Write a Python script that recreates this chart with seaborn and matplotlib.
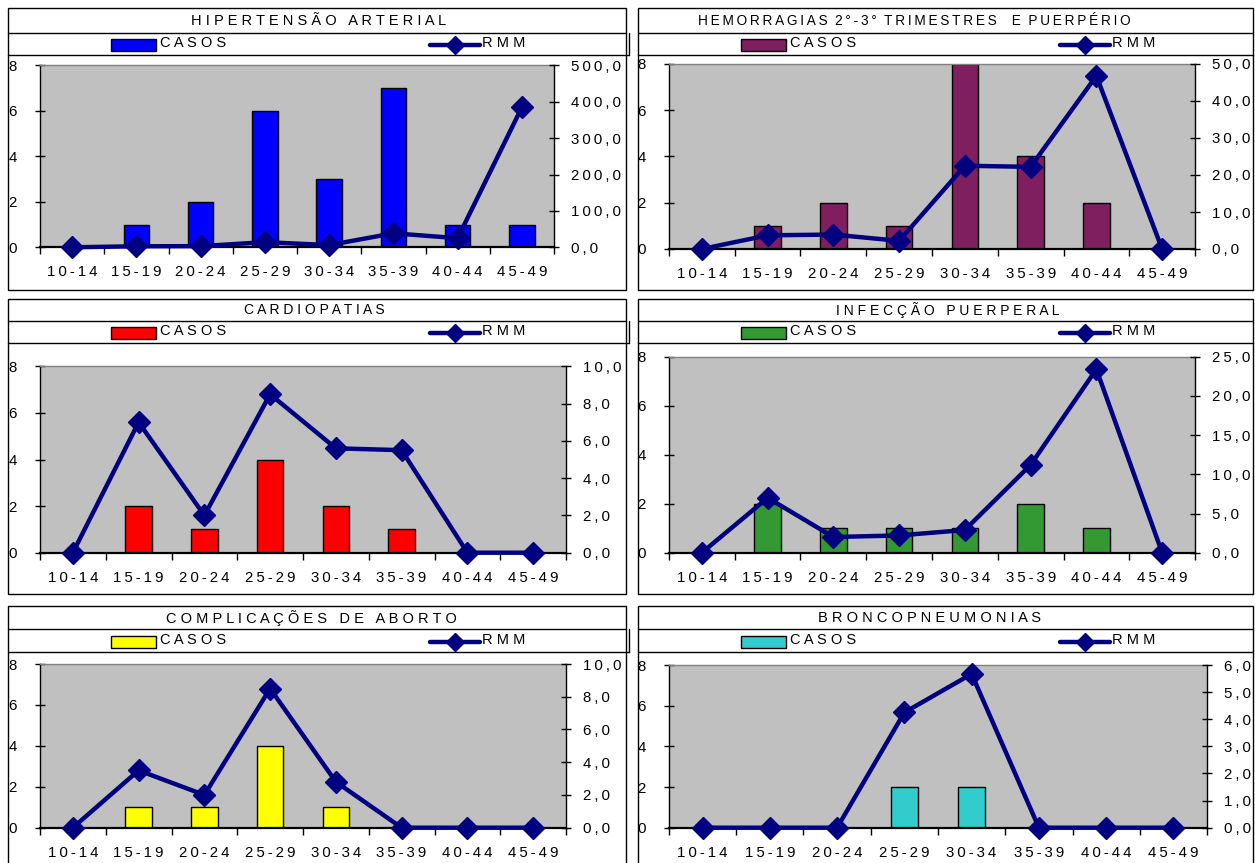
import numpy as np
import matplotlib
matplotlib.use("Agg")
import matplotlib.pyplot as plt
from matplotlib.patches import Rectangle
from matplotlib.lines import Line2D
from matplotlib.ticker import FuncFormatter
import seaborn as sns

sns.set_theme(style="white")
plt.rcParams["font.family"] = ["Liberation Sans", "DejaVu Sans"]

# ---- data -------------------------------------------------------------
faixas = ["10-14", "15-19", "20-24", "25-29", "30-34", "35-39", "40-44", "45-49"]

casos_hipertensao = [0, 1, 2, 6, 3, 7, 1, 1]
rmm_hipertensao = [0.0, 2.8, 3.1, 14.2, 6.0, 38.5, 25.0, 384.6]

casos_hemorragias = [0, 1, 2, 1, 8, 4, 2, 0]
rmm_hemorragias = [0.0, 3.7, 3.9, 2.2, 22.5, 22.2, 46.8, 0.0]

casos_cardiopatias = [0, 2, 1, 4, 2, 1, 0, 0]
rmm_cardiopatias = [0.0, 7.0, 2.0, 8.5, 5.6, 5.5, 0.0, 0.0]

casos_infeccao = [0, 2, 1, 1, 1, 2, 1, 0]
rmm_infeccao = [0.0, 7.0, 2.0, 2.2, 2.9, 11.2, 23.4, 0.0]

casos_aborto = [0, 1, 1, 4, 1, 0, 0, 0]
rmm_aborto = [0.0, 3.5, 2.0, 8.5, 2.8, 0.0, 0.0, 0.0]

casos_bronco = [0, 0, 0, 2, 2, 0, 0, 0]
rmm_bronco = [0.0, 0.0, 0.0, 4.25, 5.67, 0.0, 0.0, 0.0]

titulos = [
    "HIPERTENSÃO ARTERIAL",
    "HEMORRAGIAS 2°-3° TRIMESTRES  E PUERPÉRIO",
    "CARDIOPATIAS",
    "INFECÇÃO PUERPERAL",
    "COMPLICAÇÕES DE ABORTO",
    "BRONCOPNEUMONIAS",
]
rmm_max = [500, 50, 10, 25, 10, 6]
rmm_passo = [100, 10, 2, 5, 2, 1]

# ---- styling ----------------------------------------------------------
NAVY = "#000080"
BG = "#C0C0C0"
cores = ["#0000FF", "#7F1F5F", "#FF0000", "#339933", "#FFFF00", "#33CCCC"]

W, H = 1255, 863
fig = plt.figure(figsize=(W / 100, H / 100), dpi=100)
fig.patch.set_facecolor("white")

THIN = "\u2009"


def spaced(text, sep=" ", word_sep="   "):
    return word_sep.join(sep.join(word) for word in text.split(" "))


def fx(x):
    return x / W


def fy(y):
    return 1 - y / H


def hline(x0, x1, y, **kw):
    fig.add_artist(Line2D([fx(x0), fx(x1)], [fy(y), fy(y)],
                          transform=fig.transFigure, color="black", lw=1, **kw))


# layout of each panel in pixels: outer box, title separator, legend separator,
# plot rectangle (left, top, right, zero line), title centre and size
layout = [
    dict(box=(8, 8, 626, 290), tsep=33, lsep=55, plot=(40, 65.3, 554, 247.3),
         tx=319, tsize=10.5),
    dict(box=(638, 8, 1253, 290), tsep=33, lsep=55, plot=(669, 64, 1195, 249),
         tx=914, tsize=9.8),
    dict(box=(8, 299, 626, 594), tsep=321, lsep=343, plot=(40, 366.3, 566, 552.7),
         tx=314, tsize=10),
    dict(box=(638, 299, 1253, 594), tsep=321, lsep=343, plot=(669, 356.7, 1195, 552.7),
         tx=948, tsize=10),
    dict(box=(8, 606, 626, 875), tsep=629, lsep=652, plot=(40, 664, 566, 827.7),
         tx=311, tsize=10.5),
    dict(box=(638, 606, 1253, 875), tsep=629, lsep=652, plot=(669, 665, 1207, 827.7),
         tx=930, tsize=10.5),
]

series_casos = [casos_hipertensao, casos_hemorragias, casos_cardiopatias,
                casos_infeccao, casos_aborto, casos_bronco]
series_rmm = [rmm_hipertensao, rmm_hemorragias, rmm_cardiopatias,
              rmm_infeccao, rmm_aborto, rmm_bronco]

rmm_fmt = FuncFormatter(lambda v, p: spaced(f"{v:.1f}".replace(".", ","), THIN))
casos_fmt = FuncFormatter(lambda v, p: f"{v:.0f}")

for i, lay in enumerate(layout):
    x0, y0, x1, y1 = lay["box"]
    # panel frame, title row and legend row
    fig.add_artist(Rectangle((fx(x0), fy(y1)), (x1 - x0) / W, (y1 - y0) / H,
                             transform=fig.transFigure, fill=False, ec="black", lw=1))
    hline(x0, x1, lay["tsep"])
    hline(x0, x1 + (3 if x0 < 600 else 0), lay["lsep"])
    if x0 < 600:
        fig.add_artist(Line2D([fx(x1 + 3)] * 2, [fy(lay["tsep"]), fy(lay["lsep"])],
                              transform=fig.transFigure, color="black", lw=1))

    sep = THIN if i == 1 else " "
    fig.text(fx(lay["tx"]), fy((y0 + lay["tsep"]) / 2 + 0.5),
             spaced(titulos[i], sep, "  " if i == 1 else "   "),
             ha="center", va="center", fontsize=lay["tsize"], color="black")

    # legend row
    ly = (lay["tsep"] + lay["lsep"]) / 2 + 1
    fig.add_artist(Rectangle((fx(x0 + 103), fy(ly + 6)), 45 / W, 12 / H,
                             transform=fig.transFigure, fc=cores[i], ec="black", lw=1))
    fig.text(fx(x0 + 152), fy(ly - 2), spaced("CASOS"), ha="left", va="center",
             fontsize=10.5, color="black")
    fig.add_artist(Line2D([fx(x0 + 422), fx(x0 + 472)], [fy(ly), fy(ly)],
                          transform=fig.transFigure, color=NAVY, lw=3.2))
    fig.add_artist(Line2D([fx(x0 + 447)], [fy(ly)], transform=fig.transFigure,
                          color=NAVY, marker="D", markersize=9.5, lw=0))
    fig.text(fx(x0 + 474), fy(ly - 2), spaced("RMM"), ha="left", va="center",
             fontsize=10.5, color="black")

    # chart area
    px0, ptop, px1, pbot = lay["plot"]
    ax = fig.add_axes([fx(px0), fy(pbot), (px1 - px0) / W, (pbot - ptop) / H])
    ax.set_facecolor(BG)
    sns.barplot(x=faixas, y=series_casos[i], color=cores[i], saturation=1,
                width=0.4, edgecolor="black", linewidth=1, ax=ax)

    ax2 = ax.twinx()
    sns.pointplot(x=faixas, y=series_rmm[i], color=NAVY, markers="D",
                  markersize=11, linewidth=3.2, markeredgewidth=1,
                  errorbar=None, ax=ax2)
    for ln in ax2.lines:
        ln.set_clip_on(False)
        ln.set_zorder(5)

    ax.set_xlim(-0.5, len(faixas) - 0.5)
    ax.set_ylim(0, 8)
    ax.set_yticks([0, 2, 4, 6, 8])
    ax.yaxis.set_major_formatter(casos_fmt)
    ax2.set_ylim(0, rmm_max[i])
    ax2.set_yticks(np.arange(0, rmm_max[i] + rmm_passo[i] / 2, rmm_passo[i]))
    ax2.yaxis.set_major_formatter(rmm_fmt)

    ax.set_xticks(range(len(faixas)))
    ax.set_xticklabels([spaced(f, THIN) for f in faixas])
    ax.set_xticks(np.arange(-0.5, len(faixas), 1), minor=True)
    ax.set_xlabel("")
    ax.set_ylabel("")
    ax2.set_xlabel("")
    ax2.set_ylabel("")

    ax.tick_params(axis="x", which="major", length=0, pad=13, labelsize=10.8,
                   labelcolor="black")
    ax.tick_params(axis="x", which="minor", length=5, width=1, direction="out",
                   color="black", bottom=True)
    ax.tick_params(axis="y", which="major", left=True, length=7, width=1,
                   direction="inout", color="black", pad=13, labelsize=10.8,
                   labelcolor="black")
    ax2.tick_params(axis="y", which="major", right=True, length=7, width=1,
                    direction="inout", color="black", pad=9, labelsize=10.8,
                    labelcolor="black")

    for name, sp in ax.spines.items():
        sp.set_visible(True)
        sp.set_color("black")
        sp.set_linewidth(1)
    ax.spines["top"].set_color("#808080")
    ax.spines["bottom"].set_linewidth(1.6)
    ax.spines["right"].set_visible(False)
    for name, sp in ax2.spines.items():
        sp.set_visible(name == "right")
    ax2.spines["right"].set_color("black")
    ax2.spines["right"].set_linewidth(1)
    ax.grid(False)
    ax2.grid(False)

fig.savefig("out.png", dpi=100, facecolor="white")
